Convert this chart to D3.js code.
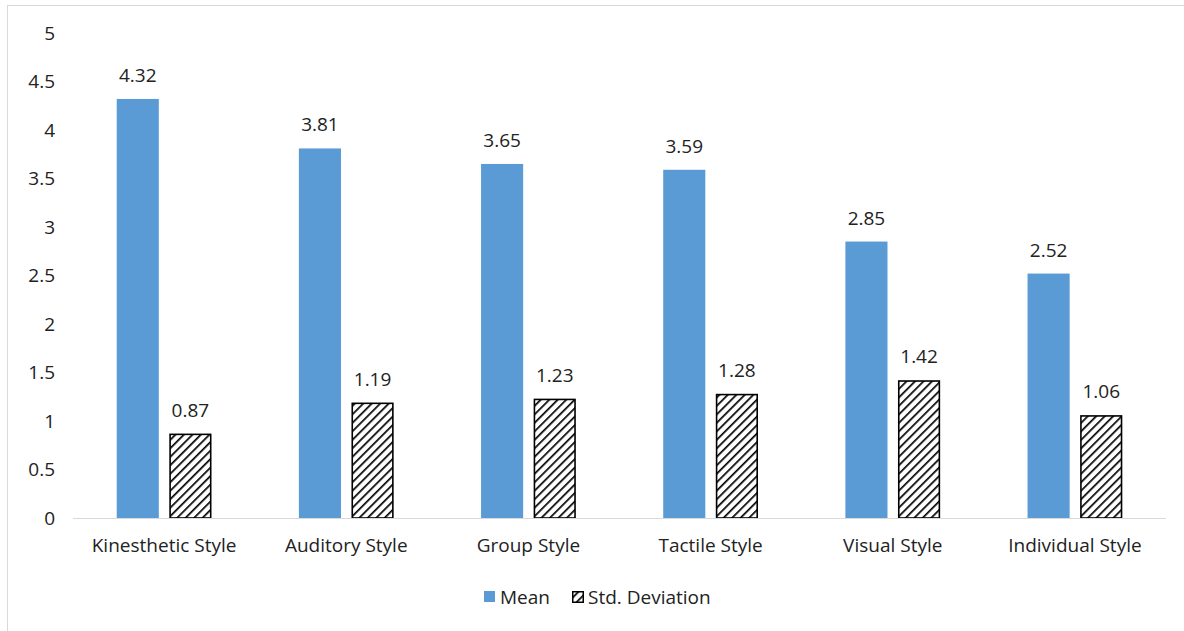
<!DOCTYPE html>
<html>
<head>
<meta charset="utf-8">
<script src="https://cdn.jsdelivr.net/npm/d3@7"></script>
<style>
  body { margin: 0; background: #fff; }
  svg { display: block; font-family: "Open Sans", "Noto Sans", sans-serif; }
</style>
</head>
<body>
<script>
const categories = ["Kinesthetic Style", "Auditory Style", "Group Style", "Tactile Style", "Visual Style", "Individual Style"];
const meanValues = [4.32, 3.81, 3.65, 3.59, 2.85, 2.52];
const sdValues = [0.87, 1.19, 1.23, 1.28, 1.42, 1.06];
const seriesNames = ["Mean", "Std. Deviation"];
const yTicks = [0, 0.5, 1, 1.5, 2, 2.5, 3, 3.5, 4, 4.5, 5];

const width = 1184;
const height = 631;
const margin = { left: 73, right: 18, top: 33, bottom: 113 };
const blue = "#5b9bd5";
const fontSize = 19;
const fontFamily = "\"Open Sans\", \"Noto Sans\", sans-serif";

const svg = d3.select("body").append("svg")
  .attr("width", width)
  .attr("height", height);

// hatch pattern for the std. deviation bars
const defs = svg.append("defs");
const pattern = defs.append("pattern")
  .attr("id", "hatch")
  .attr("patternUnits", "userSpaceOnUse")
  .attr("width", 6)
  .attr("height", 6)
  .attr("patternTransform", "rotate(45)");
pattern.append("rect").attr("width", 6).attr("height", 6).attr("fill", "#fff");
pattern.append("line")
  .attr("x1", 0).attr("y1", 0).attr("x2", 0).attr("y2", 6)
  .attr("stroke", "#000").attr("stroke-width", 3.4);

// outer frame
svg.append("rect")
  .attr("x", 7.5).attr("y", 5.5)
  .attr("width", width + 20).attr("height", height + 20)
  .attr("fill", "none")
  .attr("stroke", "#d9d9d9");

const x = d3.scaleBand()
  .domain(categories)
  .range([margin.left, width - margin.right])
  .paddingInner(0.48)
  .paddingOuter(0.24);

const xInner = d3.scaleBand()
  .domain(seriesNames)
  .range([0, x.bandwidth()])
  .paddingInner(0.2);

const y = d3.scaleLinear()
  .domain([0, 5])
  .range([height - margin.bottom, margin.top]);

// y axis labels (no line, no gridlines)
const yAxis = svg.append("g")
  .attr("transform", `translate(${margin.left - 18},0)`)
  .call(d3.axisLeft(y).tickValues(yTicks).tickSize(0).tickPadding(0).tickFormat(d3.format("")));
yAxis.select(".domain").remove();
yAxis.selectAll("text")
  .attr("font-size", fontSize)
  .attr("font-family", fontFamily)
  .attr("fill", "#222");

const groups = svg.append("g")
  .selectAll("g")
  .data(categories)
  .join("g")
  .attr("transform", d => `translate(${x(d)},0)`);

groups.each(function(cat, i) {
  const g = d3.select(this);
  const vals = [meanValues[i], sdValues[i]];
  vals.forEach((v, j) => {
    const name = seriesNames[j];
    const bx = xInner(name);
    if (j === 0) {
      g.append("rect")
        .attr("x", bx).attr("y", y(v))
        .attr("width", xInner.bandwidth())
        .attr("height", y(0) - y(v))
        .attr("fill", blue);
    } else {
      g.append("rect")
        .attr("x", bx + 0.75).attr("y", y(v) + 0.75)
        .attr("width", xInner.bandwidth() - 1.5)
        .attr("height", y(0) - y(v) - 0.75)
        .attr("fill", "url(#hatch)")
        .attr("stroke", "#000")
        .attr("stroke-width", 1.6);
    }
    g.append("text")
      .attr("x", bx + xInner.bandwidth() / 2)
      .attr("y", y(v) - 17)
      .attr("text-anchor", "middle")
      .attr("font-size", fontSize)
      .attr("fill", "#222")
      .text(v.toFixed(2));
  });
});

// baseline
svg.append("line")
  .attr("x1", margin.left).attr("x2", width - margin.right)
  .attr("y1", y(0) + 0.5).attr("y2", y(0) + 0.5)
  .attr("stroke", "#d9d9d9");

// category axis
const xAxis = svg.append("g")
  .attr("transform", `translate(0,${y(0)})`)
  .call(d3.axisBottom(x).tickSize(0).tickPadding(21));
xAxis.select(".domain").remove();
xAxis.selectAll("text")
  .attr("font-size", fontSize)
  .attr("font-family", fontFamily)
  .attr("fill", "#222");

// legend
const legend = svg.append("g").attr("transform", "translate(484,597)");
const legendX = [0, 88];
seriesNames.forEach((name, j) => {
  const lg = legend.append("g").attr("transform", `translate(${legendX[j]},0)`);
  if (j === 0) {
    lg.append("rect").attr("x", 0).attr("y", -6).attr("width", 11).attr("height", 11).attr("fill", blue);
  } else {
    lg.append("rect").attr("x", 0.75).attr("y", -5.25).attr("width", 10.5).attr("height", 10.5)
      .attr("fill", "url(#hatch)").attr("stroke", "#000").attr("stroke-width", 1.5);
  }
  lg.append("text")
    .attr("x", 16).attr("y", 0)
    .attr("dy", "0.35em")
    .attr("font-size", fontSize)
    .attr("fill", "#222")
    .text(name);
});
</script>
</body>
</html>
